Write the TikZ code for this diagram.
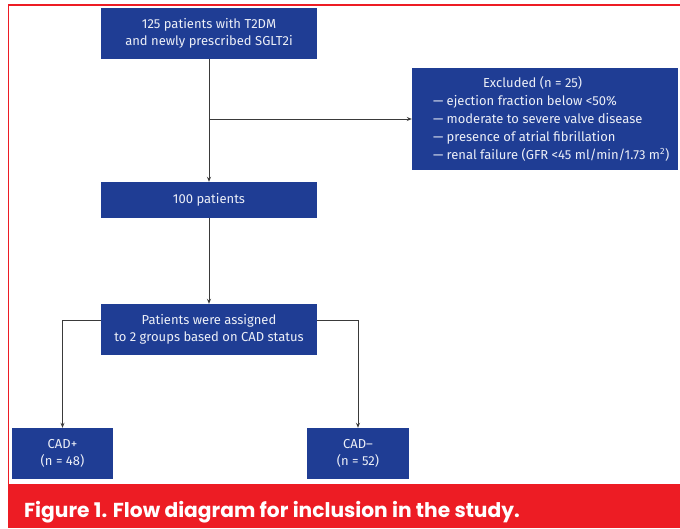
\documentclass[tikz,border=0pt]{standalone}
\usepackage{fontspec}
\setmainfont{Fira Sans}
\newfontfamily\capfont{Poppins}
\usetikzlibrary{arrows.meta,calc}
\definecolor{boxblue}{RGB}{31,61,148}
\definecolor{framered}{RGB}{237,28,36}
\definecolor{linegray}{RGB}{58,58,58}
\definecolor{boxtext}{RGB}{236,239,247}
\begin{document}
\begin{tikzpicture}[x=1pt,y=-1pt,
  flowbox/.style={draw=none,fill=boxblue,text=boxtext,inner sep=0pt,
    align=center,font=\fontsize{13}{17.5}\selectfont},
  listtext/.style={text=boxtext,inner sep=0pt,align=left,
    font=\fontsize{13}{17.8}\selectfont},
  conn/.style={draw=linegray,line width=1pt,
    -{Stealth[length=5pt,width=4pt]}}]
\useasboundingbox (0,0) rectangle (680,528);
\fill[white] (0,0) rectangle (680,528);

% frame and caption band
\draw[framered,line width=1.4pt] (8.5,484) -- (8.5,5) -- (680,5);
\fill[framered] (8,484) rectangle (680,528);
\node[anchor=base west,inner sep=0pt,text=white,
  font=\capfont\bfseries\fontsize{20.2}{22}\selectfont] (caption) at (24,517)
  {Figure 1. Flow diagram for inclusion in the study.};

% boxes
\node[flowbox,minimum width=216pt,minimum height=51pt] (top) at (209,33.5)
  {125 patients with T2DM\\and newly prescribed SGLT2i};
\node[flowbox,minimum width=266pt,minimum height=102pt] (excl) at (545,119) {};
% the base anchor of a multi-line node sits on its last line
\node[listtext,anchor=base west] (excltext) at ($(excl.north west)+(21,91.3)$)
  {\hspace*{50pt}Excluded (n = 25)\\
   --- ejection fraction below <50\%\\
   --- moderate to severe valve disease\\
   --- presence of atrial fibrillation\\
   --- renal failure (GFR <45 ml/min/1.73 m\textsuperscript{2})};
\node[flowbox,minimum width=216pt,minimum height=36pt] (hundred) at (209,200)
  {100 patients};
\node[flowbox,minimum width=216pt,minimum height=51pt] (assign) at (209,329.5)
  {Patients were assigned\\to 2 groups based on CAD status};
\node[flowbox,minimum width=101pt,minimum height=51pt] (cadp) at (62.5,453.5)
  {CAD+\\(n = 48)};
\node[flowbox,minimum width=102pt,minimum height=51pt] (cadn) at (358,453.5)
  {CAD\textendash\\(n = 52)};

% connectors
\draw[conn] (top) -- (hundred);
\draw[conn] (top.south |- excl.west) -- (excl.west);
\draw[conn] (hundred) -- (assign);
\coordinate (splitl) at ($(assign.west)+(0,-9.5)$);
\coordinate (splitr) at ($(assign.east)+(0,-9.5)$);
\draw[conn] (splitl) -| (cadp.north);
\draw[conn] (splitr) -| (cadn.north);
\end{tikzpicture}
\end{document}
